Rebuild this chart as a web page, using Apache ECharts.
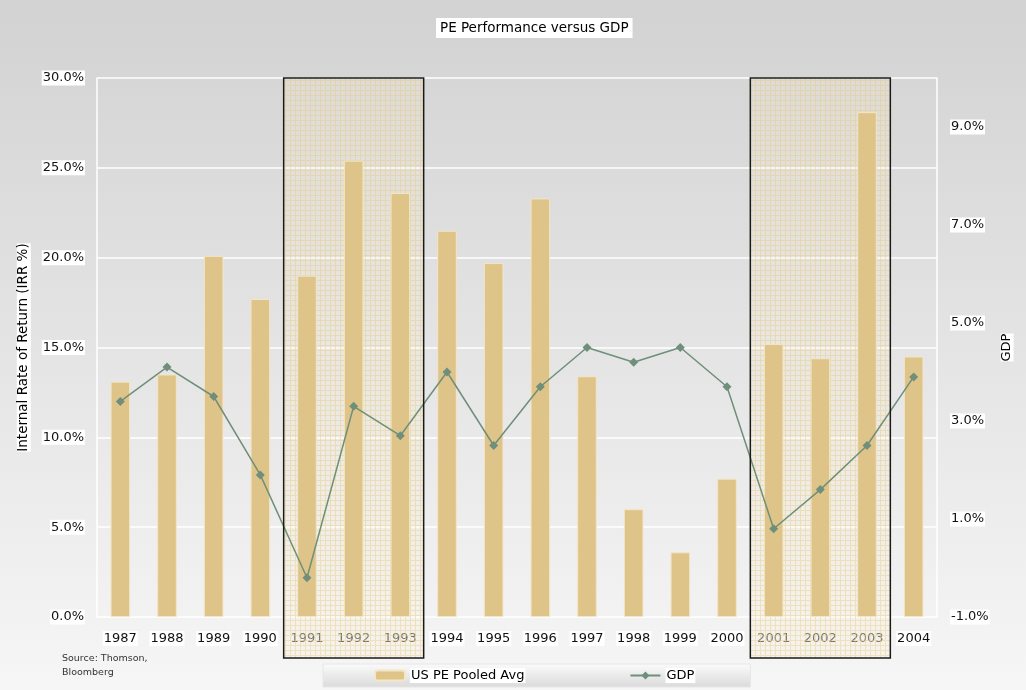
<!DOCTYPE html>
<html>
<head>
<meta charset="utf-8">
<script src="https://cdn.jsdelivr.net/npm/echarts@6/dist/echarts.min.js"></script>
<style>html,body{margin:0;padding:0;}#c{width:1026px;height:690px;}</style>
</head>
<body>
<div id="c"></div>
<script>
const categories = ['1987','1988','1989','1990','1991','1992','1993','1994','1995','1996','1997','1998','1999','2000','2001','2002','2003','2004'];
const peReturns = [13.1, 13.5, 20.1, 17.7, 19.0, 25.4, 23.6, 21.5, 19.7, 23.3, 13.4, 6.0, 3.6, 7.7, 15.2, 14.4, 28.1, 14.5];
const gdpGrowth = [3.4, 4.1, 3.5, 1.9, -0.2, 3.3, 2.7, 4.0, 2.5, 3.7, 4.5, 4.2, 4.5, 3.7, 0.8, 1.6, 2.5, 3.9];
const leftTicks = {min: 0, max: 30, interval: 5};
const rightTicks = {min: -1, max: 10, interval: 2};
const highlightStart = ['1991', '2001'];
const highlightEnd = ['1993', '2003'];

const FONT = 'DejaVu Sans';
const inBox = (c) => highlightStart.some((s, i) => c >= s && c <= highlightEnd[i]);

// plaid hatch pattern
const pc = document.createElement('canvas');
pc.width = 5; pc.height = 5;
const g = pc.getContext('2d');
g.fillStyle = 'rgba(250,240,215,0.22)';
g.fillRect(0, 0, 5, 5);
g.fillStyle = 'rgba(232,200,120,0.42)';
g.fillRect(0, 0, 5, 1);
g.fillRect(0, 1, 1, 4);

const chart = echarts.init(document.getElementById('c'), null, {renderer: 'canvas'});
const boxData = highlightStart.map((s, i) => [categories.indexOf(s), categories.indexOf(highlightEnd[i]), leftTicks.max]);

const boxRect = (api) => {
  const bw = api.size([1, 0])[0];
  const p0 = api.coord([api.value(0), api.value(2)]);
  const p1 = api.coord([api.value(1), 0]);
  const x = p0[0] - bw / 2;
  return {x: x, y: p0[1], width: p1[0] + bw / 2 - x, height: p1[1] + 41 - p0[1]};
};

chart.setOption({
  backgroundColor: new echarts.graphic.LinearGradient(0, 0, 0, 1, [
    {offset: 0, color: '#d2d2d2'}, {offset: 1, color: '#f6f6f6'}
  ]),
  textStyle: {fontFamily: FONT, fontWeight: 'normal'},
  title: {
    text: 'PE Performance versus GDP',
    left: 436, top: 18,
    padding: [3, 4, 3, 4],
    backgroundColor: '#fff',
    textStyle: {fontFamily: FONT, fontSize: 13.5, fontWeight: 'normal', color: '#000'}
  },
  graphic: [{
    type: 'text', left: 62, top: 652,
    style: {text: 'Source: Thomson,\nBloomberg', font: '9.5px "DejaVu Sans"', fill: '#333', lineHeight: 14}
  }],
  legend: {
    left: 323, top: 664,
    padding: [4, 55, 4, 51],
    itemGap: 104,
    itemWidth: 30, itemHeight: 10,
    backgroundColor: new echarts.graphic.LinearGradient(0, 0, 0, 1, [
      {offset: 0, color: '#fbfbfb'}, {offset: 1, color: '#dadada'}
    ]),
    borderColor: '#e6e6e6', borderWidth: 1,
    textStyle: {fontFamily: FONT, fontSize: 13, fontWeight: 'normal', color: '#000', backgroundColor: '#fff', padding: [1, 1]},
    data: ['US PE Pooled Avg', 'GDP']
  },
  grid: {left: 97, right: 89, top: 78, bottom: 73},
  xAxis: {
    type: 'category',
    data: categories,
    axisLine: {show: false},
    axisTick: {show: false},
    axisLabel: {
      interval: 0,
      margin: 14,
      formatter: (v) => inBox(v) ? '{h|' + v + '}' : '{n|' + v + '}',
      rich: {
        n: {fontFamily: FONT, fontSize: 13, fontWeight: 'normal', color: '#111', backgroundColor: '#fff', padding: [1, 1]},
        h: {fontFamily: FONT, fontSize: 13, fontWeight: 'normal', color: '#555', padding: [1, 1]}
      }
    }
  },
  yAxis: [{
    type: 'value',
    min: leftTicks.min, max: leftTicks.max, interval: leftTicks.interval,
    name: 'Internal Rate of Return (IRR %)',
    nameLocation: 'middle', nameGap: 49,
    nameTextStyle: {fontFamily: FONT, fontSize: 13.5, fontWeight: 'normal', color: '#000', backgroundColor: '#fff'},
    axisLine: {show: true, lineStyle: {color: '#fff', width: 1.5}},
    axisTick: {show: false},
    splitLine: {lineStyle: {color: '#fff', width: 1.5}},
    axisLabel: {
      margin: 12, fontFamily: FONT, fontSize: 13, fontWeight: 'normal', color: '#111', backgroundColor: '#fff', padding: [1, 1],
      formatter: (v) => v.toFixed(1) + '%'
    }
  }, {
    type: 'value',
    min: rightTicks.min, max: rightTicks.max, interval: rightTicks.interval,
    name: 'GDP',
    nameLocation: 'middle', nameGap: 60,
    nameTextStyle: {fontFamily: FONT, fontSize: 13, fontWeight: 'normal', color: '#000', backgroundColor: '#fff'},
    axisLine: {show: true, lineStyle: {color: '#fff', width: 1.5}},
    axisTick: {show: false},
    splitLine: {show: false},
    axisLabel: {
      showMaxLabel: false,
      margin: 13, fontFamily: FONT, fontSize: 13, fontWeight: 'normal', color: '#111', backgroundColor: '#fff', padding: [1, 1],
      formatter: (v) => v.toFixed(1) + '%'
    }
  }],
  series: [{
    name: 'box-fill',
    type: 'custom',
    data: boxData,
    encode: {x: [0, 1], y: 2},
    clip: false,
    silent: true,
    z: 1,
    renderItem: (params, api) => ({
      type: 'rect', shape: boxRect(api),
      style: {fill: {image: pc, repeat: 'repeat'}}
    })
  }, {
    name: 'US PE Pooled Avg',
    type: 'bar',
    data: peReturns,
    barWidth: '42%',
    itemStyle: {color: '#dfc48a', borderColor: '#f2e6c6', borderWidth: 1},
    z: 2
  }, {
    name: 'GDP',
    type: 'line',
    yAxisIndex: 1,
    data: gdpGrowth,
    symbol: 'diamond',
    symbolSize: 9,
    lineStyle: {color: '#6f8f7a', width: 1.5},
    itemStyle: {color: '#6f8f7a'},
    z: 3
  }, {
    name: 'box-border',
    type: 'custom',
    data: boxData,
    encode: {x: [0, 1], y: 2},
    clip: false,
    silent: true,
    z: 10,
    renderItem: (params, api) => ({
      type: 'rect', shape: boxRect(api),
      style: {fill: 'none', stroke: '#1a1a1a', lineWidth: 1.5}
    })
  }]
});
</script>
</body>
</html>
